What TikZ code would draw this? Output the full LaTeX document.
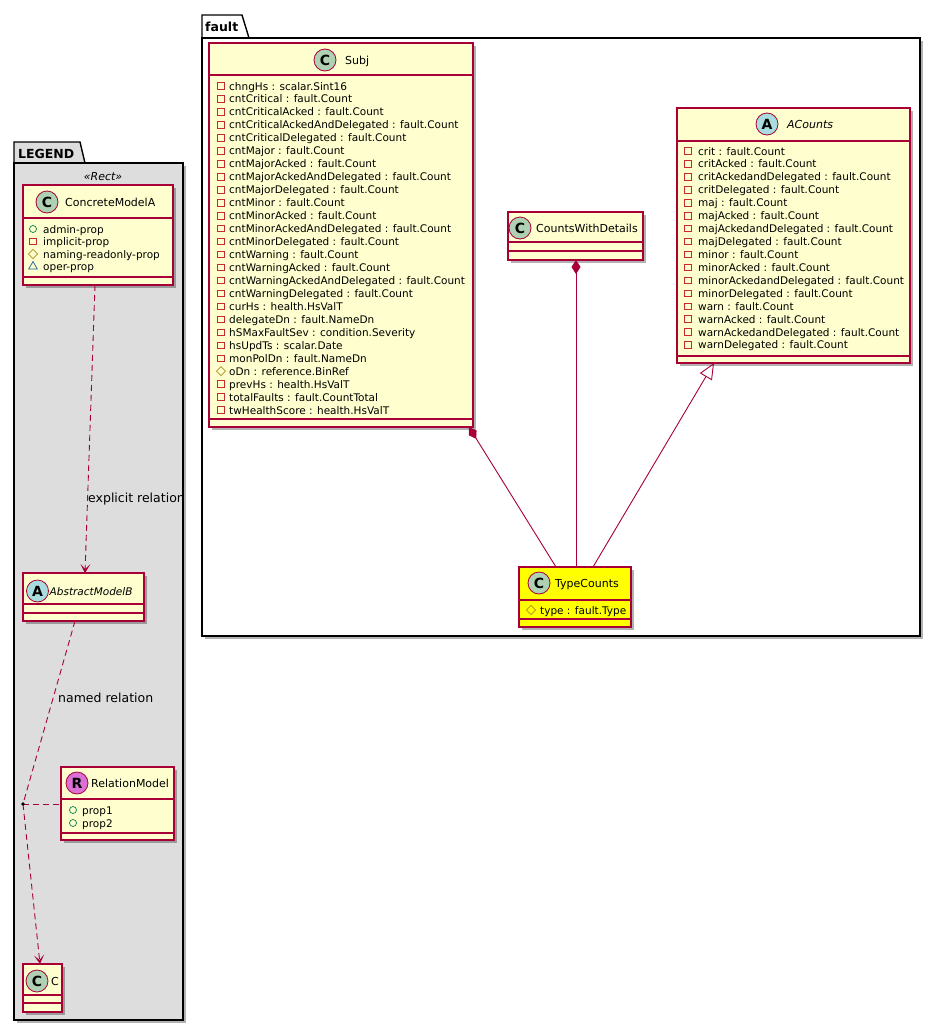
\documentclass[tikz,border=0pt]{standalone}
\usepackage{fontspec}
\setmainfont{DejaVu Sans}
\usetikzlibrary{calc,arrows.meta,shapes.geometric,shadows}
\definecolor{bord}{HTML}{A80036}
\definecolor{cfill}{HTML}{FEFECE}
\definecolor{lgfill}{HTML}{DDDDDD}
\definecolor{spotC}{HTML}{ADD1B2}
\definecolor{spotA}{HTML}{A9DCDF}
\definecolor{spotR}{HTML}{DA70D6}
\definecolor{privc}{HTML}{C82930}
\definecolor{pubc}{HTML}{038048}
\definecolor{protc}{HTML}{B38D22}
\definecolor{pkgc}{HTML}{1963A0}
\definecolor{tcfill}{HTML}{FFFF00}
\newcommand\umlbox[8]{%
  \node[cls,fill=#8,minimum width=#4,minimum height=#5] (#1) at (#2,#3) {};
  \draw[sepl] ($(#1.north west)+(0,#6)$) -- ($(#1.north east)+(0,#6)$);
  \draw[sepl] ($(#1.north west)+(0,#7)$) -- ($(#1.north east)+(0,#7)$);
}
\begin{document}
\begin{tikzpicture}[x=1pt,y=-1pt,
  shad/.style={drop shadow={shadow xshift=3pt,shadow yshift=-3pt,opacity=.3,fill=black}},
  cls/.style={draw=bord,line width=1.2pt,rectangle,inner sep=0pt,outer sep=0pt,anchor=north west,shad},
  sepl/.style={draw=bord,line width=1.2pt},
  pkgbody/.style={draw=black,line width=1.4pt,rectangle,inner sep=0pt,outer sep=0pt,anchor=north west,shad},
  pkgtab/.style={draw=black,line width=1.4pt},
  pkgname/.style={anchor=base west,inner sep=0pt,font=\fontsize{12.5}{14}\bfseries\selectfont},
  spot/.style={circle,draw=bord,line width=0.8pt,minimum size=22pt,inner sep=0pt,font=\fontsize{14}{14}\bfseries\selectfont},
  cname/.style={anchor=base west,inner sep=0pt,font=\fontsize{11}{13}\selectfont},
  attr/.style={anchor=base west,inner sep=0pt,font=\fontsize{10.5}{12}\selectfont},
  privi/.style={rectangle,draw=privc,line width=.7pt,minimum size=6.5pt,inner sep=0pt},
  pubi/.style={circle,draw=pubc,line width=.7pt,minimum size=7pt,inner sep=0pt},
  proti/.style={diamond,draw=protc,line width=.7pt,minimum size=9.5pt,inner sep=0pt},
  pkgi/.style={regular polygon,regular polygon sides=3,draw=pkgc,line width=.7pt,minimum size=10pt,inner sep=0pt},
  dep/.style={draw=bord,line width=.9pt,dash pattern=on 6pt off 4pt},
  deparrow/.style={dep,-{Stealth[length=9pt,width=10pt,inset=5pt]}},
  comp/.style={draw=bord,line width=.9pt,-{Diamond[length=14pt,width=9pt,fill=bord]}},
  inher/.style={draw=bord,line width=.9pt,-{Triangle[open,length=16pt,width=14pt]}},
  lbl/.style={anchor=base west,inner sep=0pt,font=\fontsize{12.5}{14}\selectfont}
]
\useasboundingbox (0,0) rectangle (940,1031);
\fill[white] (0,0) rectangle (940,1031);

% ---------- packages ----------
\draw[pkgtab,fill=white] (202,38) -- (202,15) -- (242,15) -- (249,38);
\node[pkgbody,fill=white,minimum width=718pt,minimum height=598pt] (faultpkg) at (202,38) {};
\node[pkgname] (faultname) at (205,31) {fault};

\draw[pkgtab,fill=lgfill] (14,163) -- (14,142) -- (80,142) -- (85,163);
\node[pkgbody,fill=lgfill,minimum width=169pt,minimum height=857pt] (legendpkg) at (14,163) {};
\node[pkgname] (legendname) at (18,158) {LEGEND};

% ---------- LEGEND classes ----------
\node[anchor=center,inner sep=0pt,font=\fontsize{11}{13}\itshape\selectfont] (stereo) at (103,177) {«Rect»};
\umlbox{cma}{23}{185}{150}{100}{33}{92}{cfill}
\node[spot,fill=spotC] (cma-s) at (47,202) {C};
\node[cname] (cma-n) at (65,206) {ConcreteModelA};
\node[pubi] (cma-i0) at (33,229) {};
\node[attr] (cma-a0) at (43,233) {admin-prop};
\node[privi] (cma-i1) at (33,241.5) {};
\node[attr] (cma-a1) at (43,245.5) {implicit-prop};
\node[proti] (cma-i2) at (33,254) {};
\node[attr] (cma-a2) at (43,258) {naming-readonly-prop};
\node[pkgi] (cma-i3) at (33,266.5) {};
\node[attr] (cma-a3) at (43,270.5) {oper-prop};

\umlbox{amb}{23}{573}{121}{48}{31}{40}{cfill}
\node[spot,fill=spotA] (amb-s) at (37.5,591) {A};
\node[cname,font=\fontsize{10.5}{13}\itshape\selectfont] (amb-n) at (49.5,595) {AbstractModelB};

\umlbox{rm}{61}{767}{113}{73}{32}{66}{cfill}
\node[spot,fill=spotR] (rm-s) at (77,783) {R};
\node[cname] (rm-n) at (91,787) {RelationModel};
\node[pubi] (rm-i0) at (73,810) {};
\node[attr] (rm-a0) at (82,814) {prop1};
\node[pubi] (rm-i1) at (73,823) {};
\node[attr] (rm-a1) at (82,827) {prop2};

\umlbox{cc}{23}{964}{39}{48}{31}{39}{cfill}
\node[spot,fill=spotC] (cc-s) at (37,981) {C};
\node[cname] (cc-n) at (51,985) {C};

% legend connectors
\coordinate (reldot) at (23,804);
\draw[deparrow] ($(cma.south west)+(72,0)$) -- ($(amb.north west)+(62,0)$);
\node[lbl] (explbl) at (88,502) {explicit relation};
\draw[dep] ($(amb.south west)+(52,0)$) -- (reldot);
\node[lbl] (namedlbl) at (58,702) {named relation};
\draw[deparrow] (reldot) -- ($(cc.north west)+(17,0)$);
\draw[dep] (reldot) -- (rm.west |- reldot);
\fill[black] (reldot) circle[radius=1.8pt];

% ---------- fault classes ----------
\umlbox{subj}{209}{43}{264}{384}{32}{376}{cfill}
\node[spot,fill=spotC] (subj-s) at (325,60) {C};
\node[cname] (subj-n) at (345,64) {Subj};
\foreach \ic/\t [count=\i from 0] in {
  privi/chngHs : scalar.Sint16,
  privi/cntCritical : fault.Count,
  privi/cntCriticalAcked : fault.Count,
  privi/cntCriticalAckedAndDelegated : fault.Count,
  privi/cntCriticalDelegated : fault.Count,
  privi/cntMajor : fault.Count,
  privi/cntMajorAcked : fault.Count,
  privi/cntMajorAckedAndDelegated : fault.Count,
  privi/cntMajorDelegated : fault.Count,
  privi/cntMinor : fault.Count,
  privi/cntMinorAcked : fault.Count,
  privi/cntMinorAckedAndDelegated : fault.Count,
  privi/cntMinorDelegated : fault.Count,
  privi/cntWarning : fault.Count,
  privi/cntWarningAcked : fault.Count,
  privi/cntWarningAckedAndDelegated : fault.Count,
  privi/cntWarningDelegated : fault.Count,
  privi/curHs : health.HsValT,
  privi/delegateDn : fault.NameDn,
  privi/hSMaxFaultSev : condition.Severity,
  privi/hsUpdTs : scalar.Date,
  privi/monPolDn : fault.NameDn,
  proti/oDn : reference.BinRef,
  privi/prevHs : health.HsValT,
  privi/totalFaults : fault.CountTotal,
  privi/twHealthScore : health.HsValT} {
  \node[\ic] (subj-i\i) at (221,86+12.96*\i) {};
  \node[attr] (subj-a\i) at (229,90+12.96*\i) {\t};
}

\umlbox{cwd}{508}{212}{135}{48}{30}{39}{cfill}
\node[spot,fill=spotC] (cwd-s) at (520,228) {C};
\node[cname] (cwd-n) at (536,232) {CountsWithDetails};

\umlbox{acnt}{677}{108}{233}{255}{33}{248}{cfill}
\node[spot,fill=spotA] (acnt-s) at (767,124) {A};
\node[cname,font=\fontsize{11}{13}\itshape\selectfont] (acnt-n) at (787,128) {ACounts};
\foreach \t [count=\i from 0] in {
  crit : fault.Count, critAcked : fault.Count, critAckedandDelegated : fault.Count, critDelegated : fault.Count,
  maj : fault.Count, majAcked : fault.Count, majAckedandDelegated : fault.Count, majDelegated : fault.Count,
  minor : fault.Count, minorAcked : fault.Count, minorAckedandDelegated : fault.Count, minorDelegated : fault.Count,
  warn : fault.Count, warnAcked : fault.Count, warnAckedandDelegated : fault.Count, warnDelegated : fault.Count} {
  \node[privi] (acnt-i\i) at (688,151+12.93*\i) {};
  \node[attr] (acnt-a\i) at (698,155+12.93*\i) {\t};
}

\umlbox{tc}{519}{567}{112}{60}{33}{52}{tcfill}
\node[spot,fill=spotC] (tc-s) at (539,583) {C};
\node[cname] (tc-n) at (555,587) {TypeCounts};
\node[proti] (tc-i0) at (531,610) {};
\node[attr] (tc-a0) at (540,614) {type : fault.Type};

% fault connectors
\draw[comp] ($(tc.north west)+(37,0)$) -- ($(subj.south west)+(260,0)$);
\draw[comp] ($(tc.north west)+(57,0)$) -- ($(cwd.south west)+(68,0)$);
\draw[inher] ($(tc.north west)+(74,0)$) -- ($(acnt.south west)+(37,0)$);
\end{tikzpicture}
\end{document}
